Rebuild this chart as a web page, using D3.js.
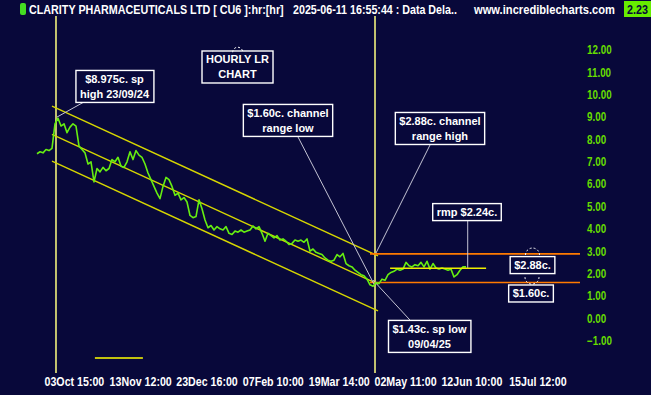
<!DOCTYPE html>
<html><head><meta charset="utf-8">
<script src="https://cdn.jsdelivr.net/npm/d3@7"></script>
<style>
html,body{margin:0;padding:0;background:#08083a;overflow:hidden;}
svg{display:block;}
.narrow{font-family:"Liberation Sans",Arial,sans-serif;font-weight:bold;}
.ann{font-family:"Liberation Sans",Arial,sans-serif;font-weight:bold;font-size:11px;fill:#ffffff;}
</style></head><body>
<svg id="c" width="651" height="395"></svg>
<script>
// ---- data ----
const priceValues = [
 7.36,7.45,7.40,7.55,7.50,7.60,8.70,8.95,8.60,8.70,
 8.30,8.55,8.70,8.60,7.70,7.55,7.40,6.90,7.00,6.10,
 6.70,6.55,6.75,6.60,6.70,7.10,7.00,7.20,6.80,6.75,
 7.00,7.45,7.10,7.50,7.30,7.20,6.90,6.50,6.20,5.90,
 5.60,5.35,5.90,6.30,6.20,5.90,5.50,5.60,5.30,5.40,
 5.20,4.60,4.50,4.55,5.30,4.90,4.40,4.05,4.15,3.95,
 4.10,4.00,3.95,4.10,3.80,3.75,3.90,3.85,3.95,3.85,
 3.90,3.95,4.13,4.00,4.10,3.80,3.45,3.80,3.70,3.60,
 3.70,3.50,3.55,3.45,3.30,3.35,3.50,3.45,3.50,3.40,
 3.55,3.00,3.10,2.95,2.90,2.85,2.70,2.60,2.55,2.60,
 2.85,2.75,2.90,2.45,2.35,2.30,2.15,2.05,1.95,1.90,
 1.75,1.50,1.43,1.60,1.55,1.75,1.70,1.95,2.05,2.10,
 2.20,2.15,2.20,2.50,2.35,2.30,2.40,2.35,2.50,2.30,
 2.55,2.20,2.45,2.25,2.20,2.25,2.20,2.15,2.20,1.85,
 1.95,2.15,2.30,2.30
];
const xTickIndex = [12.3, 34.4, 56.5, 78.6, 100.6, 122.7, 144.8, 166.8];
const xTickLabels = ["03Oct 15:00","13Nov 12:00","23Dec 16:00","07Feb 10:00","19Mar 14:00","02May 11:00","12Jun 10:00","15Jul 12:00"];
const yTickValues = [12,11,10,9,8,7,6,5,4,3,2,1,0,-1];
const channelIndex = [5, 113.67];
const channelUpper = [9.49, 2.79];
const channelMiddle = [8.23, 1.53];
const channelLower = [7.03, 0.33];
const markerIndex = [6.33, 112.67];      // 23/09/24 high, 09/04/25 low
const rangeLevels = [2.88, 1.60];
const rangeIndex = [111, 181];
const rmpLevel = 2.24;
const rmpIndex = [117.7, 149.7];
const stubLevel = -1.78;
const stubIndex = [19.3, 35.3];
const annotationLines = [
 ["$8.975c. sp","high 23/09/24"],
 ["HOURLY LR","CHART"],
 ["$1.60c. channel","range low"],
 ["$2.88c. channel","range high"],
 ["rmp $2.24c."],
 ["$2.88c."],
 ["$1.60c."],
 ["$1.43c. sp low","09/04/25"]
];
const annotationAt = [[25.83,10.37],[66.83,11.24],[83.67,8.85],[134.33,8.49],[143.33,4.75],[165.17,2.38],[164.67,1.11],[130.83,-0.81]];
const pointerFrom = [[15.33,9.65],null,[87,8.11],[131,7.75],[143.57,4.35],null,null,[124.33,-0.08]];
const pointerTo   = [[6.67,9.0],null,[112.33,1.53],[113,2.92],[143.57,2.24],null,null,[112,1.71]];
const glyphAt = [[66.9,11.9,5,"top"],[165.17,2.83,7,"top"],[165.0,1.84,7,"bottom"]];

// condense helper: horizontal scale about the text's own origin (text must sit at x=0)
function condense(sel, f){ sel.attr("transform", `scale(${f},1)`); }

// ---- scales ----
const svg = d3.select("#c");
const W = 651, H = 395;
svg.append("rect").attr("width",W).attr("height",H).attr("fill","#08083a");
const x = d3.scaleLinear().domain([0, priceValues.length-1]).range([37, 466]);
const y = d3.scaleLinear().domain([0, 12]).range([318.3, 50]);

// header texts, squeezed to a target width
function headText(str, px, width, anchor, color){
  const g = svg.append("g").attr("transform",`translate(${px},14)`);
  const t = g.append("text").attr("class","narrow").attr("font-size",13).attr("fill",color)
    .attr("text-anchor",anchor||"start").text(str);
  const w = t.node().getComputedTextLength();
  t.attr("transform",`scale(${width/w},1)`);
}
svg.append("rect").attr("x",20).attr("y",3).attr("width",6).attr("height",12).attr("rx",2).attr("fill","#44dd22");
headText("CLARITY PHARMACEUTICALS LTD [ CU6 ]:hr:[hr]", 29, 255, "start", "#ffffff");
headText("2025-06-11 16:55:44 : Data Dela..", 293, 164, "start", "#ffffff");
headText("www.incrediblecharts.com", 474, 141, "start", "#ffffff");
svg.append("rect").attr("x",624).attr("y",1).attr("width",27).attr("height",16).attr("fill","#66ee00");
headText("2.23", 637.5, 21, "middle", "#08083a");

// vertical marker lines
svg.selectAll("line.marker").data(markerIndex).join("line").attr("class","marker")
  .attr("x1",d=>x(d)).attr("x2",d=>x(d)).attr("y1",16).attr("y2",373)
  .attr("stroke","#ffff80").attr("stroke-width",1.5);

// stub line
svg.append("line").attr("x1",x(stubIndex[0])).attr("x2",x(stubIndex[1])).attr("y1",y(stubLevel)).attr("y2",y(stubLevel))
  .attr("stroke","#ffff00").attr("stroke-width",1.5);

// channel
[channelUpper, channelMiddle, channelLower].forEach(c=>{
  svg.append("line").attr("x1",x(channelIndex[0])).attr("y1",y(c[0])).attr("x2",x(channelIndex[1])).attr("y2",y(c[1]))
    .attr("stroke","#d6d600").attr("stroke-width",1.4);
});

// range levels
svg.selectAll("line.range").data(rangeLevels).join("line").attr("class","range")
  .attr("x1",x(rangeIndex[0])).attr("x2",x(rangeIndex[1])).attr("y1",d=>y(d)).attr("y2",d=>y(d))
  .attr("stroke","#ff7a00").attr("stroke-width",1.6);

// pointers
annotationLines.forEach((l,i)=>{
  if(!pointerFrom[i]) return;
  svg.append("line").attr("x1",x(pointerFrom[i][0])).attr("y1",y(pointerFrom[i][1]))
    .attr("x2",x(pointerTo[i][0])).attr("y2",y(pointerTo[i][1]))
    .attr("stroke","#c4c4d4").attr("stroke-width",1);
});

// price line
svg.append("path").datum(priceValues)
  .attr("d", d3.line().x((d,i)=>x(i)).y(d=>y(d)))
  .attr("fill","none").attr("stroke","#66ee11").attr("stroke-width",1.6).attr("stroke-linejoin","round");

// rmp line
svg.append("line").attr("x1",x(rmpIndex[0])).attr("x2",x(rmpIndex[1])).attr("y1",y(rmpLevel)).attr("y2",y(rmpLevel))
  .attr("stroke","#eeee00").attr("stroke-width",1.5);

// y axis
const yAxis = svg.append("g").attr("transform","translate(587,0)")
  .call(d3.axisRight(y).tickValues(yTickValues).tickFormat(d3.format(".2f")).tickSize(0).tickPadding(0));
yAxis.select(".domain").remove();
yAxis.selectAll("text").attr("class","narrow").attr("font-size",12).attr("fill","#66dd00").call(condense,0.82);

// x axis
const xAxis = svg.append("g").attr("transform","translate(0,374)")
  .call(d3.axisBottom(x).tickValues(xTickIndex).tickFormat((d,i)=>xTickLabels[i]).tickSize(0).tickPadding(3));
xAxis.select(".domain").remove();
xAxis.selectAll("text").attr("class","narrow").attr("font-size",13).attr("fill","#ffffff").call(condense,0.82);

// annotations
annotationLines.forEach((lines,i)=>{
  const g = svg.append("g");
  const cx = x(annotationAt[i][0]), cy = y(annotationAt[i][1]);
  const lh = 15;
  const t = g.append("text").attr("class","ann").attr("text-anchor","middle");
  lines.forEach((s,j)=>{
    t.append("tspan").attr("x",cx).attr("y", cy - (lines.length-1)*lh/2 + j*lh + 4).text(s);
  });
  const bb = t.node().getBBox();
  g.insert("rect","text").attr("x",bb.x-4).attr("y",cy-(lines.length*lh+2)/2).attr("width",bb.width+8).attr("height",lines.length*lh+2)
    .attr("fill","#08083a").attr("stroke","#ffffff").attr("stroke-width",1.4);
});

// dashed cursor glyphs
glyphAt.forEach(gl=>{
  const cx = x(gl[0]), cy = y(gl[1]), r = gl[2];
  const arc = gl[3]==="top"
    ? `M${cx-r},${cy} A${r},${r} 0 0 1 ${cx+r},${cy}`
    : `M${cx-r},${cy} A${r},${r} 0 0 0 ${cx+r},${cy}`;
  svg.append("path").attr("d",arc).attr("fill","none").attr("stroke","#ffffff").attr("stroke-width",1).attr("stroke-dasharray","2,2");
});
</script>
</body></html>
